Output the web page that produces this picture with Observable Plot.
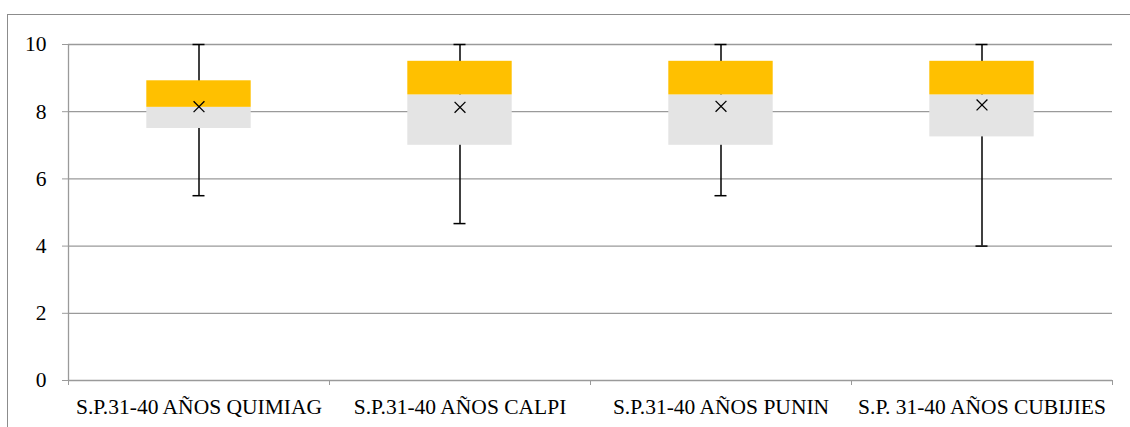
<!DOCTYPE html>
<html>
<head>
<meta charset="utf-8">
<script src="https://cdn.jsdelivr.net/npm/d3@7"></script>
<script src="https://cdn.jsdelivr.net/npm/@observablehq/plot@0.6"></script>
<style>
  body { margin: 0; background: #fff; }
  #chart { position: relative; width: 1130px; height: 427px; overflow: hidden; }
  #frame { position: absolute; left: 7px; top: 14px; width: 1200px; height: 500px;
           border-left: 1.5px solid #8c8c8c; border-top: 1.5px solid #8c8c8c; }
  #chart svg { position: absolute; left: 0; top: 0; }
  #chart svg text { font-family: "Liberation Serif", "Times New Roman", serif; }
</style>
</head>
<body>
<div id="chart"><div id="frame"></div></div>
<script>
// Box-plot summary per group
const categories = [
  "S.P.31-40 AÑOS QUIMIAG",
  "S.P.31-40 AÑOS CALPI",
  "S.P.31-40 AÑOS PUNIN",
  "S.P. 31-40 AÑOS CUBIJIES"
];
const minimum = [5.5, 4.67, 5.5, 4.0];
const q1      = [7.5, 7.0, 7.0, 7.25];
const median  = [8.13, 8.5, 8.5, 8.5];
const q3      = [8.92, 9.5, 9.5, 9.5];
const maximum = [10, 10, 10, 10];
const mean    = [8.15, 8.13, 8.16, 8.2];
const yTicks  = [0, 2, 4, 6, 8, 10];

// Each group occupies one unit on a linear x scale; its center is i + 0.5
const rows = categories.map((name, i) => ({
  name, c: i + 0.5,
  min: minimum[i], q1: q1[i], median: median[i], q3: q3[i], max: maximum[i], mean: mean[i]
}));
const boundaries = d3.range(categories.length + 1);
const centers = rows.map(d => d.c);
const halfBox = 0.2, halfCap = 0.023;
const grid = "#9a9a9a";
const serif = "Liberation Serif";

const chart = Plot.plot({
  width: 1130,
  height: 427,
  marginLeft: 68,
  marginRight: 18,
  marginTop: 44,
  marginBottom: 47,
  x: { domain: [0, categories.length], label: null },
  y: { domain: [0, 10], label: null },
  style: { fontFamily: serif, fontSize: "21px", color: "#000", background: "transparent" },
  marks: [
    Plot.ruleY(yTicks, { stroke: grid, strokeWidth: 1.3 }),
    Plot.ruleX([0], { stroke: grid, strokeWidth: 1.3 }),
    Plot.axisY(yTicks, { tickSize: 6, tickPadding: 16, stroke: grid, fill: "#000", label: null,
                         fontSize: 21.5, fontFamily: serif }),
    Plot.axisX(boundaries, { tickSize: 5, tickFormat: () => "", stroke: grid, label: null }),
    Plot.axisX(centers, { tickSize: 0, tickPadding: 18, tickFormat: d => categories[Math.floor(d)],
                          fill: "#000", label: null, fontSize: 21.5, fontFamily: serif }),
    // whiskers and caps
    Plot.ruleX(rows, { x: "c", y1: "min", y2: "max", stroke: "#000", strokeWidth: 1.5 }),
    Plot.ruleY(rows, { y: "min", x1: d => d.c - halfCap, x2: d => d.c + halfCap, stroke: "#000", strokeWidth: 1.5 }),
    Plot.ruleY(rows, { y: "max", x1: d => d.c - halfCap, x2: d => d.c + halfCap, stroke: "#000", strokeWidth: 1.5 }),
    // lower and upper halves of each box
    Plot.rect(rows, { x1: d => d.c - halfBox, x2: d => d.c + halfBox, y1: "q1", y2: "median", fill: "#e4e4e4" }),
    Plot.rect(rows, { x1: d => d.c - halfBox, x2: d => d.c + halfBox, y1: "median", y2: "q3", fill: "#ffc000" }),
    // mean marker
    Plot.dot(rows, { x: "c", y: "mean", symbol: "times", r: 5, stroke: "#000", strokeWidth: 1.3 })
  ]
});
document.getElementById("chart").appendChild(chart);
</script>
</body>
</html>
